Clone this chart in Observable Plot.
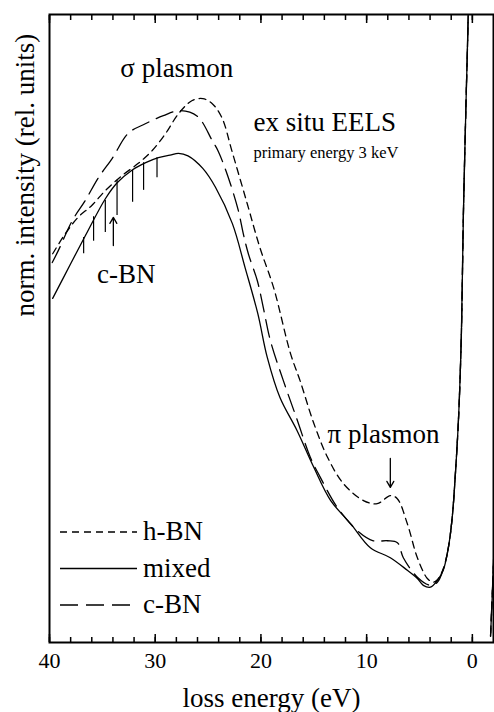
<!DOCTYPE html>
<html>
<head>
<meta charset="utf-8">
<script src="https://cdn.jsdelivr.net/npm/d3@7"></script>
<script src="https://cdn.jsdelivr.net/npm/@observablehq/plot@0.6"></script>
<style>
  html, body { margin: 0; padding: 0; background: #fff; }
  #chart { width: 494px; height: 712px; }
  svg { display: block; }
</style>
</head>
<body>
<div id="chart"></div>
<script>
// EELS spectra: loss energy (eV) vs normalised intensity (rel. units)
const hbnE = [39.7, 38.5, 37.3, 36.0, 34.7, 33.1, 31.6, 30.3, 29.0, 27.8, 26.5, 25.5, 24.6, 23.7, 22.7, 21.3, 20.1, 18.8, 17.2, 16.3, 15.0, 13.7, 12.2, 10.3, 9.0, 7.76, 7.1, 6.15, 5.2, 4.26, 3.7, 3.31, 2.74, 2.27, 1.9, 1.6, 1.3, 1.04, 0.85, 0.6, 0.38, 0.2, -1.55, -1.72];
const hbnI = [61.9, 65.1, 67.7, 69.6, 72.0, 74.4, 76.3, 78.3, 81.1, 84.2, 86.3, 86.6, 85.8, 83.6, 78.0, 69.9, 62.9, 56.5, 46.0, 41.7, 34.9, 29.5, 25.3, 22.6, 22.1, 23.4, 22.9, 18.9, 13.5, 10.2, 9.6, 10.0, 11.8, 15.1, 20, 27, 36, 49, 68, 86, 101, 130, 130, 1];

const mixedE = [39.7, 38.0, 36.6, 34.7, 33.6, 32.2, 30.9, 29.7, 28.6, 27.8, 26.9, 25.5, 24.3, 22.7, 21.5, 20.3, 19.4, 18.2, 16.6, 15.0, 13.4, 11.5, 9.65, 7.76, 6.15, 5.2, 4.64, 3.97, 3.31, 2.74, 2.27, 1.9, 1.6, 1.3, 1.04, 0.85, 0.6, 0.38, 0.2, -1.55, -1.72];
const mixedI = [54.8, 60.3, 64.8, 70.7, 73.2, 75.2, 76.4, 77.2, 77.6, 77.9, 77.5, 75.5, 72.5, 66.7, 59.7, 52.4, 45.4, 39.0, 33.8, 27.9, 22.6, 18.9, 15.1, 13.5, 11.5, 10.2, 9.1, 8.8, 9.9, 11.6, 15.1, 20, 27, 36, 49, 68, 86, 101, 130, 130, 1];

const cbnE = [39.74, 39.17, 37.84, 36.61, 35.38, 34.06, 32.54, 30.94, 29.23, 27.63, 26.02, 24.6, 24.03, 23.08, 22.14, 21.67, 21.19, 20.34, 19.77, 19.11, 17.88, 16.56, 15.33, 14.38, 12.77, 10.88, 9.37, 8.04, 7.09, 6.53, 5.2, 3.97, 3.31, 2.74, 2.27, 1.9, 1.6, 1.3, 1.04, 0.85, 0.6, 0.38, 0.2, -1.55, -1.72];
const cbnI = [60.5, 62.4, 67.2, 70.4, 74.0, 77.1, 81.1, 82.6, 83.9, 84.7, 83.8, 79.9, 78.2, 74.0, 68.8, 65.1, 61.9, 57.6, 53.3, 48.1, 41.7, 35.4, 29.5, 26.3, 21.5, 17.8, 16.2, 16.2, 15.9, 13.5, 10.4, 9.1, 9.6, 11.7, 15.1, 20, 27, 36, 49, 68, 86, 101, 130, 130, 1];

// c-BN reference line positions hanging below the mixed spectrum
const markE = [36.77, 35.83, 34.72, 33.61, 32.14, 31.10, 29.83];
const markTop = [64.5, 67.8, 70.4, 73.6, 75.2, 76.4, 77.2];
const markBottom = [61.9, 63.9, 65.3, 68.0, 70.1, 72.0, 74.0];

// arrows: energy, tail intensity, tip intensity
const arrowE = [33.96, 7.76];
const arrowFrom = [63.2, 29.3];
const arrowTo = [67.7, 24.7];

// annotations
const noteText = ["\u03c3 plasmon", "ex situ EELS", "c-BN", "\u03c0 plasmon"];
const noteE = [33.3, 20.7, 35.5, 13.7];
const noteI = [90.0, 81.4, 57.2, 31.7];
const subText = ["primary energy 3 keV"];
const subE = [20.7];
const subI = [77.2];

const majorTicks = [0, 10, 20, 30, 40];
const minorTicks = d3.range(0, 41, 2);

const legendNames = ["h-BN", "mixed", "c-BN"];
const dashes = {"h-BN": "7,5", "mixed": null, "c-BN": "18,8"};

const rows = (name, E, I) => E.map((e, i) => ({name, E: e, I: I[i]}));
const spectra = [rows("h-BN", hbnE, hbnI), rows("mixed", mixedE, mixedI), rows("c-BN", cbnE, cbnI)];
const marks = markE.map((e, i) => ({E: e, top: markTop[i], bottom: markBottom[i]}));
const arrows = arrowE.map((e, i) => ({E: e, from: arrowFrom[i], to: arrowTo[i]}));
const notes = noteText.map((t, i) => ({t, E: noteE[i], I: noteI[i]}));
const subs = subText.map((t, i) => ({t, E: subE[i], I: subI[i]}));

const serif = "Liberation Serif";

const chart = Plot.plot({
  width: 494,
  height: 712,
  marginLeft: 49,
  marginRight: 1,
  marginTop: 14,
  marginBottom: 70,
  style: {background: "#fff", color: "#000", overflow: "visible", fontFamily: serif},
  x: {domain: [40, -2]},
  y: {domain: [0, 100], axis: null},
  marks: [
    ...spectra.map(s => Plot.line(s, {
      x: "E", y: "I", stroke: "#000", strokeWidth: 1.3,
      strokeDasharray: dashes[s[0].name], clip: true, curve: "catmull-rom"
    })),
    Plot.ruleX(marks, {x: "E", y1: "bottom", y2: "top", stroke: "#000", strokeWidth: 1.2}),
    Plot.arrow(arrows, {x1: "E", x2: "E", y1: "from", y2: "to", stroke: "#000", strokeWidth: 1.3, headLength: 8}),
    Plot.text(notes, {x: "E", y: "I", text: "t", textAnchor: "start", lineAnchor: "bottom", fontSize: 27, fontFamily: serif, fill: "#000"}),
    Plot.text(subs, {x: "E", y: "I", text: "t", textAnchor: "start", lineAnchor: "bottom", fontSize: 16.5, fontFamily: serif, fill: "#000"}),
    Plot.frame({stroke: "#000", strokeWidth: 2}),
    Plot.axisX(minorTicks, {anchor: "bottom", tickSize: -5, fill: "none", label: null, strokeWidth: 1.5}),
    Plot.axisX(majorTicks, {anchor: "bottom", tickSize: -8, fill: "none", label: null, strokeWidth: 1.5}),
    Plot.axisX(minorTicks, {anchor: "top", tickSize: -5, fill: "none", label: null, strokeWidth: 1.5}),
    Plot.axisX(majorTicks, {anchor: "top", tickSize: -8, fill: "none", label: null, strokeWidth: 1.5}),
    Plot.axisX(majorTicks, {anchor: "bottom", tickSize: 0, tickPadding: 10, fontSize: 22, fontFamily: serif, label: null, fill: "#000"}),
    Plot.text(["loss energy (eV)"], {frameAnchor: "bottom", dy: 64, lineAnchor: "bottom", fontSize: 27, fontFamily: serif, fill: "#000"}),
    Plot.text(["norm. intensity (rel. units)"], {frameAnchor: "left", rotate: -90, dx: -16, dy: -12, lineAnchor: "bottom", fontSize: 27, fontFamily: serif, fill: "#000"})
  ]
});

document.getElementById("chart").appendChild(chart);

// legend drawn inside the frame, lower left
const svg = d3.select(chart);
const lg = svg.append("g").attr("class", "legend").attr("text-anchor", "start");
legendNames.forEach((name, i) => {
  const y = 532 + i * 36.5;
  lg.append("line")
    .attr("x1", 60).attr("x2", 137).attr("y1", y).attr("y2", y)
    .attr("stroke", "#000").attr("stroke-width", 1.3)
    .attr("stroke-dasharray", dashes[name]);
  lg.append("text")
    .attr("x", 143).attr("y", y + 8)
    .attr("text-anchor", "start")
    .attr("font-family", serif)
    .attr("font-size", 27).attr("fill", "#000")
    .text(name);
});
</script>
</body>
</html>
